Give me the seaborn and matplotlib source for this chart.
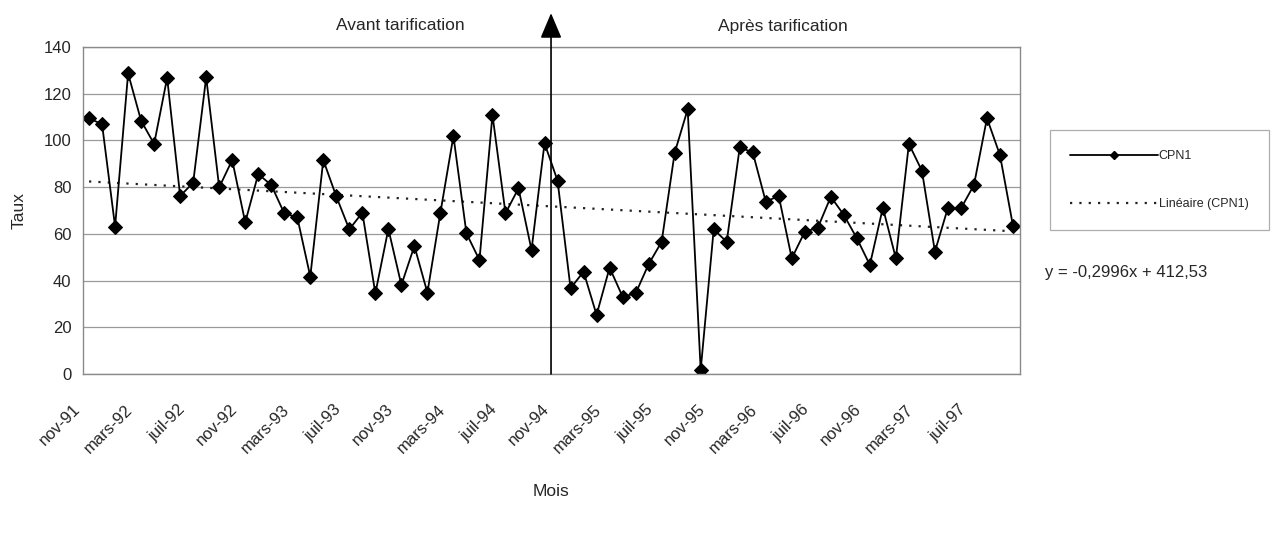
import numpy as np
import pandas as pd
import matplotlib
matplotlib.use("Agg")
import matplotlib.pyplot as plt
import matplotlib.transforms as mtransforms
from matplotlib.lines import Line2D
import seaborn as sns

# Monthly series, nov-91 .. oct-97
months_fr = ["janv", "févr", "mars", "avr", "mai", "juin",
             "juil", "août", "sept", "oct", "nov", "déc"]
start_year, start_month = 1991, 11
cpn1 = [109.5, 106.9, 63.1, 128.7, 108.4, 98.5, 126.8, 76.2, 81.9, 127.0,
        79.9, 91.6, 64.9, 85.6, 80.9, 68.8, 67.1, 41.7, 91.6, 76.0,
        61.9, 69.1, 34.5, 62.1, 38.1, 54.8, 34.8, 69.1, 101.9, 60.2,
        48.8, 110.9, 68.8, 79.5, 53.1, 98.8, 82.8, 36.7, 43.8, 25.3,
        45.5, 33.1, 34.5, 47.0, 56.6, 94.7, 113.3, 1.7, 61.9, 56.6,
        97.0, 94.9, 73.8, 76.2, 49.5, 60.9, 62.6, 75.9, 68.1, 58.1,
        46.7, 71.2, 49.5, 98.5, 87.0, 52.4, 71.2, 70.9, 80.9, 109.5,
        93.7, 63.4]
y_ticks = [0, 20, 40, 60, 80, 100, 120, 140]
label_step = 4
pricing_break = 35.5  # between oct-94 and nov-94
equation_text = "y = -0,2996x + 412,53"

labels = []
for i in range(len(cpn1)):
    m = (start_month - 1 + i) % 12
    y = start_year + (start_month - 1 + i) // 12
    labels.append(f"{months_fr[m]}-{y % 100:02d}")

df = pd.DataFrame({"idx": np.arange(len(cpn1)), "CPN1": cpn1})

sns.set_theme(style="white")
plt.rcParams["font.family"] = ["Liberation Sans", "DejaVu Sans"]

fig = plt.figure(figsize=(12.72, 5.42), dpi=100)
ax = fig.add_axes([0.0649, 0.31, 0.7366, 0.6033])

# trend line (linear fit)
sns.regplot(data=df, x="idx", y="CPN1", ax=ax, scatter=False, ci=None,
            truncate=True,
            line_kws=dict(color="#222222", lw=1.6, linestyle=(0, (1, 3.2))))

sns.lineplot(data=df, x="idx", y="CPN1", ax=ax, color="black", lw=1.3,
             marker="D", markersize=7, markeredgecolor="black")

ax.set_xlim(-0.5, len(cpn1) - 0.5)
ax.set_ylim(0, 140)
ax.set_yticks(y_ticks)
ax.set_yticklabels([str(v) for v in y_ticks], fontsize=12)
ax.yaxis.grid(True, color="#9a9a9a", lw=0.9)
ax.xaxis.grid(False)

tick_pos = list(range(0, len(cpn1), label_step))
ax.set_xticks(tick_pos)
ax.set_xticklabels([labels[i] for i in tick_pos], rotation=45, ha="right",
                   rotation_mode="anchor", fontsize=12)
ax.tick_params(axis="x", length=0, pad=20)
ax.tick_params(axis="y", length=0, pad=8)
shift = mtransforms.ScaledTranslation(-16 / 100, 0, fig.dpi_scale_trans)
for lab in ax.get_xticklabels():
    lab.set_transform(lab.get_transform() + shift)

for s in ax.spines.values():
    s.set_color("#8a8a8a")
    s.set_linewidth(1.0)

ax.set_xlabel("Mois", fontsize=12.5, labelpad=20)
ax.set_ylabel("Taux", fontsize=12.5, labelpad=12)

# pricing break arrow
ax.annotate("", xy=(pricing_break, 154.5), xytext=(pricing_break, 0),
            xycoords="data", textcoords="data", annotation_clip=False,
            arrowprops=dict(arrowstyle="-|>,head_width=0.55,head_length=1.3",
                            color="black", lw=1.2, shrinkA=0, shrinkB=0))

fig.text(400 / 1272, 1 - 26 / 542, "Avant tarification", fontsize=12.5,
         ha="center", va="center")
fig.text(783 / 1272, 1 - 26 / 542, "Après tarification", fontsize=12.5,
         ha="center", va="center")

handles = [
    Line2D([], [], color="black", lw=1.3, marker="D", markersize=4),
    Line2D([], [], color="#222222", lw=1.6, linestyle=(0, (1, 3.2))),
]
leg = fig.legend(handles, ["CPN1", "Linéaire (CPN1)"],
                 loc="upper left", bbox_to_anchor=(1050 / 1272, 1 - 130 / 542),
                 fontsize=9, frameon=True, handlelength=7.0, handletextpad=0.1,
                 labelspacing=2.9, borderpad=1.6, borderaxespad=0,
                 fancybox=False)
leg.get_frame().set_edgecolor("#9a9a9a")
leg.get_frame().set_linewidth(0.9)

fig.text(1045 / 1272, 1 - 272 / 542, equation_text, fontsize=12,
         ha="left", va="center")

fig.savefig("out.png", dpi=100)
